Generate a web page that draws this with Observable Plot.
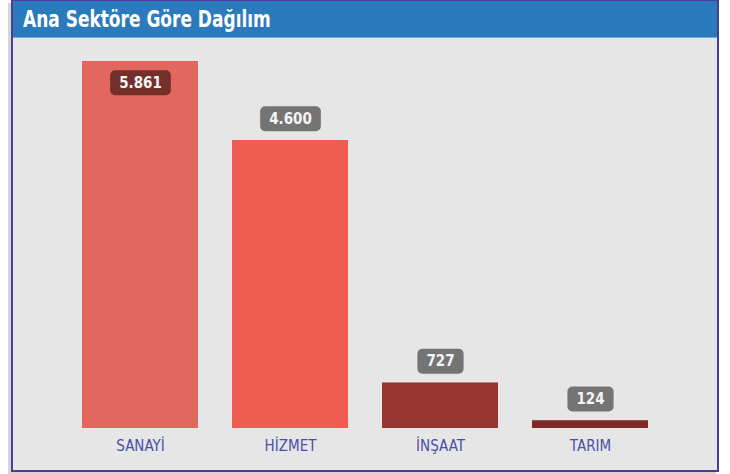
<!DOCTYPE html>
<html>
<head>
<meta charset="utf-8">
<script src="https://cdn.jsdelivr.net/npm/d3@7"></script>
<script src="https://cdn.jsdelivr.net/npm/@observablehq/plot@0.6"></script>
<style>
  html, body { margin: 0; padding: 0; background: #ffffff; width: 730px; height: 474px; overflow: hidden; }
  #frame {
    position: absolute; left: 11px; top: 0; width: 704px; height: 469px;
    border: 2px solid #4a3f97; border-top-width: 1px;
    background: #e6e6e6;
    box-shadow: -3px 3px 0 #d6d6d6;
  }
  #header {
    position: absolute; left: 0; top: 0; width: 704px; height: 37px;
    background: #2a7abd; border-bottom: 1px solid #7fa9d0;
    box-sizing: border-box;
  }
  #title {
    position: absolute; left: 10px; top: 0; line-height: 36px;
    color: #ffffff; font-family: "DejaVu Sans", sans-serif; font-stretch: condensed;
    font-weight: bold; font-size: 22.5px; white-space: nowrap;
    transform: scaleX(0.84); transform-origin: left center;
  }
  #chart { position: absolute; left: 0; top: 39px; }
</style>
</head>
<body>
<div id="frame"><div id="header"><div id="title">Ana Sektöre Göre Dağılım</div></div></div>
<div id="chart"></div>
<script>
const categories = ["SANAYİ", "HİZMET", "İNŞAAT", "TARIM"];
const values = [5861, 4600, 727, 124];
const barColors = ["#e2675f", "#ef5c50", "#973533", "#7f292a"];
const labelFills = ["#722f2b", "#747474", "#747474", "#747474"];

const data = categories.map((c, i) => ({ category: c, value: values[i], color: barColors[i], box: labelFills[i] }));
const trFormat = d3.formatLocale({ decimal: ",", thousands: ".", grouping: [3], currency: ["₺", ""] }).format(",d");
const maxV = d3.max(values);
const inside = d => d.value / maxV > 0.9;
const condensed = "'DejaVu Sans Condensed', 'DejaVu Sans', sans-serif";

const plot = Plot.plot({
  width: 730,
  height: 431,
  marginLeft: 46,
  marginRight: 46,
  marginTop: 22,
  marginBottom: 42,
  style: { background: "transparent", overflow: "visible", fontFamily: condensed },
  x: { domain: categories, padding: 0.23, label: null },
  y: { domain: [0, maxV], axis: null },
  marks: [
    Plot.barY(data, { x: "category", y: "value", fill: "color" }),
    Plot.axisX({ tickSize: 0, tickPadding: 12, fontSize: 15, fill: "#4b4fa6", fontFamily: condensed }),
    Plot.text(data.filter(d => !inside(d)), { x: "category", y: "value", text: d => trFormat(d.value), dy: -21.5,
      fill: "#f4f4f4", fontSize: 15, fontWeight: "bold", className: "vlabel", fontFamily: condensed }),
    Plot.text(data.filter(d => inside(d)), { x: "category", y: "value", text: d => trFormat(d.value), dy: 21.5,
      fill: "#f4f4f4", fontSize: 15, fontWeight: "bold", className: "vlabel", fontFamily: condensed })
  ]
});
document.getElementById("chart").appendChild(plot);

// rounded background boxes behind value labels
plot.querySelectorAll("g.vlabel").forEach(g => {
  g.querySelectorAll("text").forEach(t => {
    const bb = t.getBBox();
    const row = data.find(r => trFormat(r.value) === t.textContent);
    const w = bb.width + 18, h = 25;
    const cx = bb.x + bb.width / 2, cy = bb.y + bb.height / 2;
    const r = document.createElementNS("http://www.w3.org/2000/svg", "rect");
    r.setAttribute("x", cx - w / 2);
    r.setAttribute("y", cy - h / 2);
    r.setAttribute("width", w);
    r.setAttribute("height", h);
    r.setAttribute("rx", 5);
    r.setAttribute("fill", row ? row.box : "#747474");
    const tr = t.getAttribute("transform");
    if (tr) r.setAttribute("transform", tr);
    t.parentNode.insertBefore(r, t);
  });
});
</script>
</body>
</html>
